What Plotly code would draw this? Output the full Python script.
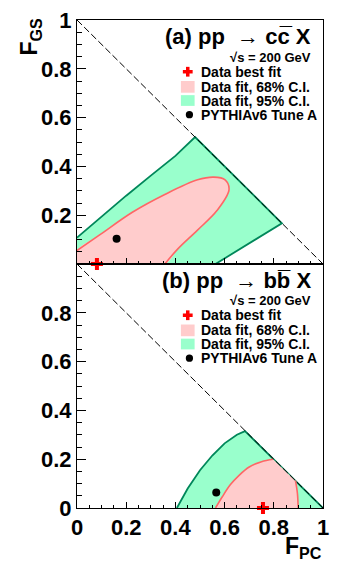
import plotly.graph_objects as go

# ---------------- data ----------------
# Panel (a): pp -> c cbar X
a_best_fpc = [0.081]
a_best_fgs = [0.0]
a_pythia_fpc = [0.161]
a_pythia_fgs = [0.103]
# 68% C.L. contour (open curve, from F_PC=0 axis to F_GS=0 axis)
a_68_fpc = [0.0, 0.092, 0.225, 0.357, 0.49, 0.556, 0.602, 0.618, 0.569, 0.49, 0.41, 0.357]
a_68_fgs = [0.055, 0.119, 0.212, 0.285, 0.345, 0.356, 0.345, 0.305, 0.219, 0.139, 0.062, 0.0]
# 95% C.L. contour
a_95_fpc = [0.0, 0.1, 0.2, 0.3, 0.4, 0.48, 0.833, 0.563]
a_95_fgs = [0.108, 0.195, 0.28, 0.362, 0.443, 0.52, 0.167, 0.0]

# Panel (b): pp -> b bbar X
b_best_fpc = [0.756]
b_best_fgs = [0.0]
b_pythia_fpc = [0.566]
b_pythia_fgs = [0.064]
b_68_left_fpc = [0.563, 0.59, 0.623, 0.66, 0.70, 0.75, 0.797]
b_68_left_fgs = [0.0, 0.045, 0.095, 0.135, 0.168, 0.19, 0.2]
b_68_right_fpc = [0.888, 0.896, 0.899]
b_68_right_fgs = [0.112, 0.06, 0.0]
b_95_fpc = [0.406, 0.45, 0.5, 0.55, 0.6, 0.65, 0.683, 1.0]
b_95_fgs = [0.0, 0.08, 0.155, 0.215, 0.265, 0.3, 0.315, 0.0]

# physical boundary F_PC + F_GS = 1
bound_fpc = [0.0, 1.0]
bound_fgs = [1.0, 0.0]

x_tickvals = [0, 0.2, 0.4, 0.6, 0.8, 1.0]
x_ticktext = ["0", "0.2", "0.4", "0.6", "0.8", "1"]
ya_tickvals = [0.2, 0.4, 0.6, 0.8, 1.0]
ya_ticktext = ["0.2", "0.4", "0.6", "0.8", "1"]
yb_tickvals = [0, 0.2, 0.4, 0.6, 0.8]
yb_ticktext = ["0", "0.2", "0.4", "0.6", "0.8"]

titles = ["(a) pp  \u2192 cc\u0305 X", "(b) pp  \u2192 bb\u0305 X"]
energy = "\u221as = 200 GeV"
legend_labels = ["Data best fit", "Data fit, 68% C.I.", "Data fit, 95% C.I.", "PYTHIAv6 Tune A"]

# ---------------- style ----------------
PINK_FILL = "#ffcccc"
PINK_LINE = "#ff6666"
GREEN_FILL = "#99ffcc"
GREEN_LINE = "#00875a"
FONT = "Liberation Sans, Arial, sans-serif"

W, H = 337, 565
ML, MR, MT, MB = 77, 9, 8, 57
PW, PH = W - ML - MR, H - MT - MB


def px(x):
    return (x - ML) / PW


def py(y):
    return (MT + PH - y) / PH


fig = go.Figure()


def add_panel(xa, ya, c95x, c95y, c68_parts, c68_fill, best, pyth, closed95):
    fx, fy = closed95
    fig.add_trace(go.Scatter(x=fx, y=fy, mode="lines", fill="toself", fillcolor=GREEN_FILL,
                             line=dict(width=0, color="rgba(0,0,0,0)"), xaxis=xa, yaxis=ya,
                             hoverinfo="skip", showlegend=False))
    fig.add_trace(go.Scatter(x=c95x, y=c95y, mode="lines", line=dict(color=GREEN_LINE, width=1.8),
                             xaxis=xa, yaxis=ya, hoverinfo="skip", showlegend=False))
    fx, fy, shape = c68_fill
    fig.add_trace(go.Scatter(x=fx, y=fy, mode="lines", fill="toself", fillcolor=PINK_FILL,
                             line=dict(width=0, color="rgba(0,0,0,0)", shape=shape), xaxis=xa, yaxis=ya,
                             hoverinfo="skip", showlegend=False))
    for (lx, ly) in c68_parts:
        fig.add_trace(go.Scatter(x=lx, y=ly, mode="lines",
                                 line=dict(color=PINK_LINE, width=1.6, shape="spline"),
                                 xaxis=xa, yaxis=ya, hoverinfo="skip", showlegend=False))
    fig.add_trace(go.Scatter(x=bound_fpc, y=bound_fgs, mode="lines",
                             line=dict(color="black", width=1, dash="7px,3px"),
                             xaxis=xa, yaxis=ya, hoverinfo="skip", showlegend=False))
    fig.add_trace(go.Scatter(x=pyth[0], y=pyth[1], mode="markers",
                             marker=dict(symbol="circle", size=8, color="black"),
                             xaxis=xa, yaxis=ya, cliponaxis=False, hoverinfo="skip", showlegend=False))
    fig.add_trace(go.Scatter(x=best[0], y=best[1], mode="markers",
                             marker=dict(symbol="cross", size=10, color="red", line=dict(width=0)),
                             xaxis=xa, yaxis=ya, cliponaxis=False, hoverinfo="skip", showlegend=False))


a_fill95 = ([0.0] + a_95_fpc + [0.0], [0.0] + a_95_fgs + [0.0])
a_fill68 = ([0.0] + a_68_fpc + [0.0], [0.0] + a_68_fgs + [0.0], "spline")
add_panel("x", "y", a_95_fpc, a_95_fgs, [(a_68_fpc, a_68_fgs)], a_fill68,
          (a_best_fpc, a_best_fgs), (a_pythia_fpc, a_pythia_fgs), a_fill95)

b_fill95 = (b_95_fpc + [b_95_fpc[0]], b_95_fgs + [b_95_fgs[0]])
b_fill68 = (b_68_left_fpc + b_68_right_fpc + [b_68_left_fpc[0]],
            b_68_left_fgs + b_68_right_fgs + [b_68_left_fgs[0]], "linear")
add_panel("x2", "y2", b_95_fpc, b_95_fgs,
          [(b_68_left_fpc, b_68_left_fgs), (b_68_right_fpc, b_68_right_fgs)], b_fill68,
          (b_best_fpc, b_best_fgs), (b_pythia_fpc, b_pythia_fgs), b_fill95)

tickfont = dict(family=FONT, size=22, color="black", weight="bold")
common_x = dict(range=[0, 1], showgrid=False, zeroline=False, showline=True, linecolor="black",
                linewidth=1, mirror=True, ticks="inside", ticklen=6, tickwidth=1, tickcolor="black",
                tickvals=x_tickvals, ticktext=x_ticktext, tickfont=tickfont,
                ticklabeloverflow="allow",
                minor=dict(tickmode="linear", tick0=0, dtick=0.05, ticks="inside", ticklen=3,
                           tickcolor="black", tickwidth=1, showgrid=False),
                fixedrange=True)
common_y = dict(range=[0, 1], showgrid=False, zeroline=False, showline=True, linecolor="black",
                linewidth=1, mirror=True, ticks="inside", ticklen=9, tickwidth=1, tickcolor="black",
                tickfont=tickfont, ticklabeloverflow="allow",
                minor=dict(tickmode="linear", tick0=0, dtick=0.05, ticks="inside", ticklen=5,
                           tickcolor="black", tickwidth=1, showgrid=False),
                fixedrange=True)

fig.update_layout(
    width=W, height=H,
    margin=dict(l=ML, r=MR, t=MT, b=MB, pad=0),
    paper_bgcolor="white", plot_bgcolor="white",
    showlegend=False,
    font=dict(family=FONT, color="black"),
    xaxis=dict(common_x, domain=[0, 1], anchor="y", showticklabels=False),
    yaxis=dict(common_y, domain=[0.5, 1], anchor="x", tickvals=ya_tickvals, ticktext=ya_ticktext),
    xaxis2=dict(common_x, domain=[0, 1], anchor="y2"),
    yaxis2=dict(common_y, domain=[0, 0.5], anchor="x2", tickvals=yb_tickvals, ticktext=yb_ticktext),
)

annotations = []
shapes = []
rows_a = [61, 76.5, 90.5, 105]
for panel, off in enumerate([0, 249.5]):
    annotations.append(dict(text="<b>" + titles[panel] + "</b>", x=px(318), y=py(25 + off),
                            xref="paper", yref="paper", xanchor="right", yanchor="middle",
                            showarrow=False, font=dict(family=FONT, size=22, color="black")))
    annotations.append(dict(text="<b>" + energy + "</b>", x=px(318), y=py(46 + off),
                            xref="paper", yref="paper", xanchor="right", yanchor="middle",
                            showarrow=False, font=dict(family=FONT, size=13, color="black")))
    for i, lab in enumerate(legend_labels):
        annotations.append(dict(text="<b>" + lab + "</b>", x=px(201), y=py(rows_a[i] + off),
                                xref="paper", yref="paper", xanchor="left", yanchor="middle",
                                showarrow=False, font=dict(family=FONT, size=14, color="black")))
    r0, r1, r2, r3 = [r + off for r in rows_a]
    shapes.append(dict(type="rect", xref="paper", yref="paper", x0=px(185), x1=px(195),
                       y0=py(r0 + 1.8), y1=py(r0 - 1.8), fillcolor="red", line=dict(width=0)))
    shapes.append(dict(type="rect", xref="paper", yref="paper", x0=px(188.2), x1=px(191.8),
                       y0=py(r0 + 5), y1=py(r0 - 5), fillcolor="red", line=dict(width=0)))
    shapes.append(dict(type="rect", xref="paper", yref="paper", x0=px(183), x1=px(197),
                       y0=py(r1 + 6), y1=py(r1 - 6), fillcolor=PINK_FILL, line=dict(width=0)))
    shapes.append(dict(type="rect", xref="paper", yref="paper", x0=px(183), x1=px(197),
                       y0=py(r2 + 5.5), y1=py(r2 - 5.5), fillcolor=GREEN_FILL, line=dict(width=0)))
    shapes.append(dict(type="circle", xref="paper", yref="paper", x0=px(188), x1=px(195.4),
                       y0=py(r3 + 3.7), y1=py(r3 - 3.7), fillcolor="black", line=dict(width=0)))

annotations.append(dict(text="<b>F<sub>GS</sub></b>", x=px(30), y=py(25), xref="paper", yref="paper",
                        xanchor="center", yanchor="middle", textangle=-90, showarrow=False,
                        font=dict(family=FONT, size=23, color="black")))
annotations.append(dict(text="<b>F<sub>PC</sub></b>", x=px(329), y=py(548), xref="paper", yref="paper",
                        xanchor="right", yanchor="middle", showarrow=False,
                        font=dict(family=FONT, size=23, color="black")))

fig.update_layout(annotations=annotations, shapes=shapes)

fig.write_html("out.html", config={"displayModeBar": False},
               post_script="document.body.style.margin='0';document.body.style.padding='0';")
